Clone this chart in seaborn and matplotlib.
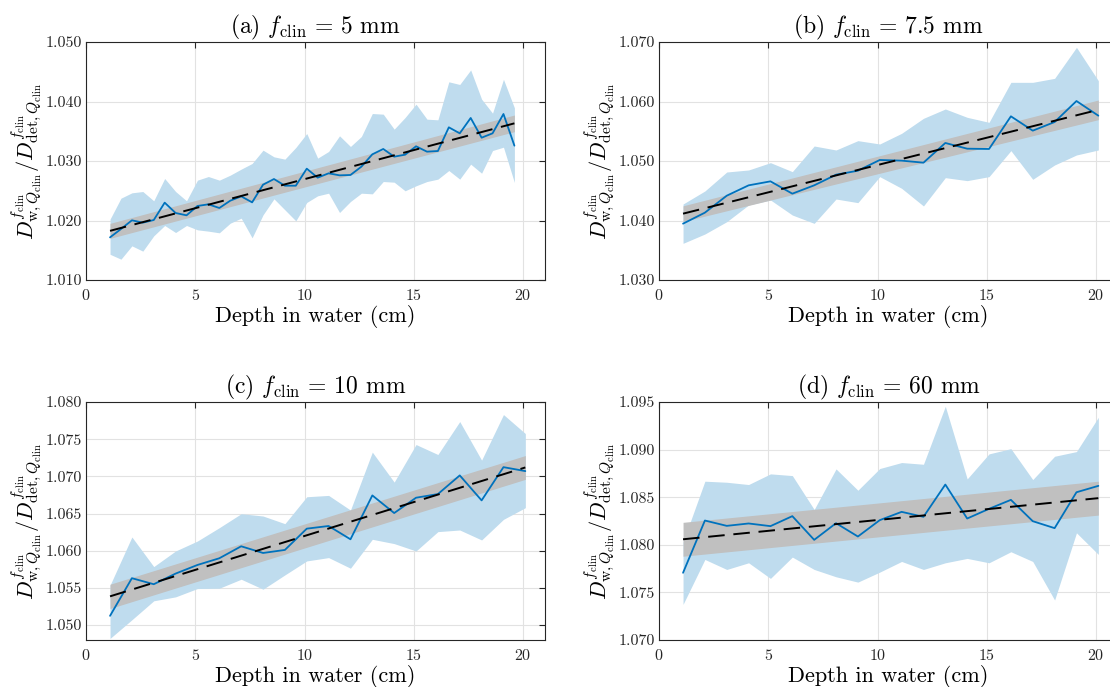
import numpy as np
import pandas as pd
import matplotlib
matplotlib.use("Agg")
import matplotlib.pyplot as plt
import seaborn as sns

# ---------------- data ----------------
depth_a = [1.1, 1.6, 2.1, 2.6, 3.1, 3.6, 4.1, 4.6, 5.1, 5.6, 6.1, 6.6, 7.1, 7.6,
           8.1, 8.6, 9.1, 9.6, 10.1, 10.6, 11.1, 11.6, 12.1, 12.6, 13.1, 13.6,
           14.1, 14.6, 15.1, 15.6, 16.1, 16.6, 17.1, 17.6, 18.1, 18.6, 19.1, 19.6]
mean_a = [1.01717, 1.01857, 1.02003, 1.01964, 1.02008, 1.02300, 1.02126, 1.02087,
          1.02244, 1.02272, 1.02210, 1.02333, 1.02406, 1.02305, 1.02602, 1.02697,
          1.02585, 1.02585, 1.02871, 1.02720, 1.02793, 1.02759, 1.02765, 1.02905,
          1.03112, 1.03202, 1.03073, 1.03106, 1.03247, 1.03157, 1.03168, 1.03566,
          1.03465, 1.03723, 1.03392, 1.03465, 1.03790, 1.03258]
upper_a = [1.02022, 1.02375, 1.02465, 1.02487, 1.02331, 1.02706, 1.02487, 1.02331,
           1.02678, 1.02739, 1.02678, 1.02762, 1.02863, 1.02958, 1.03182, 1.03070,
           1.03031, 1.03227, 1.03462, 1.03048, 1.03160, 1.03423, 1.03244, 1.03412,
           1.03798, 1.03787, 1.03535, 1.03731, 1.03955, 1.03703, 1.03692, 1.04331,
           1.04286, 1.04530, 1.04039, 1.03804, 1.04373, 1.03894]
lower_a = [1.01432, 1.01350, 1.01574, 1.01485, 1.01742, 1.01916, 1.01798, 1.01916,
           1.01843, 1.01821, 1.01793, 1.01955, 1.02039, 1.01709, 1.02095, 1.02364,
           1.02179, 1.01994, 1.02303, 1.02415, 1.02459, 1.02134, 1.02319, 1.02459,
           1.02448, 1.02655, 1.02644, 1.02499, 1.02583, 1.02655, 1.02695, 1.02840,
           1.02695, 1.02947, 1.02795, 1.03176, 1.03232, 1.02639]
fit_a = [1.01826, 1.03633]
fit_hw_a = [0.00126, 0.00140]

depth_bcd = [1.1, 2.1, 3.1, 4.1, 5.1, 6.1, 7.1, 8.1, 9.1, 10.1,
             11.1, 12.1, 13.1, 14.1, 15.1, 16.1, 17.1, 18.1, 19.1, 20.1]

mean_b = [1.03947, 1.04132, 1.04417, 1.04591, 1.04658, 1.04451, 1.04591, 1.04770,
          1.04837, 1.05017, 1.05006, 1.04972, 1.05303, 1.05207, 1.05202, 1.05751,
          1.05510, 1.05655, 1.06008, 1.05762]
upper_b = [1.04277, 1.04496, 1.04815, 1.04849, 1.04972, 1.04821, 1.05252, 1.05185,
           1.05342, 1.05286, 1.05465, 1.05717, 1.05874, 1.05734, 1.05650, 1.06322,
           1.06322, 1.06389, 1.06910, 1.06350]
lower_b = [1.03616, 1.03773, 1.03980, 1.04261, 1.04345, 1.04092, 1.03952, 1.04361,
           1.04300, 1.04737, 1.04541, 1.04244, 1.04720, 1.04670, 1.04737, 1.05174,
           1.04692, 1.04933, 1.05101, 1.05185]
fit_b = [1.04115, 1.05860]
fit_hw_b = [0.00132, 0.00165]

mean_c = [1.05125, 1.05631, 1.05550, 1.05693, 1.05809, 1.05899, 1.06060, 1.05970,
          1.06011, 1.06297, 1.06333, 1.06154, 1.06744, 1.06507, 1.06713, 1.06762,
          1.07013, 1.06677, 1.07124, 1.07071]
upper_c = [1.05537, 1.06185, 1.05787, 1.05997, 1.06131, 1.06310, 1.06498, 1.06467,
           1.06364, 1.06726, 1.06744, 1.06547, 1.07326, 1.06923, 1.07428, 1.07294,
           1.07737, 1.07218, 1.07831, 1.07576]
lower_c = [1.04821, 1.05072, 1.05327, 1.05380, 1.05492, 1.05496, 1.05617, 1.05483,
           1.05675, 1.05863, 1.05908, 1.05765, 1.06154, 1.06096, 1.05997, 1.06257,
           1.06279, 1.06145, 1.06422, 1.06579]
fit_c = [1.05387, 1.07120]
fit_hw_c = [0.00163, 0.00160]

mean_d = [1.07706, 1.08255, 1.08199, 1.08224, 1.08196, 1.08301, 1.08052, 1.08227,
          1.08087, 1.08259, 1.08346, 1.08294, 1.08633, 1.08276, 1.08378, 1.08472,
          1.08248, 1.08175, 1.08552, 1.08619]
upper_d = [1.08030, 1.08668, 1.08657, 1.08633, 1.08745, 1.08727, 1.08371, 1.08797,
           1.08573, 1.08801, 1.08864, 1.08846, 1.09455, 1.08692, 1.08955, 1.09010,
           1.08685, 1.08930, 1.08979, 1.09339]
lower_d = [1.07374, 1.07846, 1.07741, 1.07811, 1.07647, 1.07871, 1.07741, 1.07664,
           1.07608, 1.07713, 1.07825, 1.07741, 1.07811, 1.07857, 1.07811, 1.07927,
           1.07825, 1.07420, 1.08126, 1.07899]
fit_d = [1.08058, 1.08490]
fit_hw_d = [0.00178, 0.00178]

titles = [r"(a) $f_{\mathrm{clin}}\,=\,5$ mm", r"(b) $f_{\mathrm{clin}}\,=\,7.5$ mm",
          r"(c) $f_{\mathrm{clin}}\,=\,10$ mm", r"(d) $f_{\mathrm{clin}}\,=\,60$ mm"]
ylims = [(1.010, 1.050), (1.030, 1.070), (1.048, 1.080), (1.070, 1.095)]
yticks = [[1.010, 1.020, 1.030, 1.040, 1.050],
          [1.030, 1.040, 1.050, 1.060, 1.070],
          [1.050, 1.055, 1.060, 1.065, 1.070, 1.075, 1.080],
          [1.070, 1.075, 1.080, 1.085, 1.090, 1.095]]
xticks = [0, 5, 10, 15, 20]
xlabel = "Depth in water (cm)"
ylabel = (r"$D^{f_{\mathrm{clin}}}_{\mathrm{w},Q_{\mathrm{clin}}}"
          r"/D^{f_{\mathrm{clin}}}_{\mathrm{det},Q_{\mathrm{clin}}}$")

panels = [
    (depth_a, mean_a, upper_a, lower_a, fit_a, fit_hw_a),
    (depth_bcd, mean_b, upper_b, lower_b, fit_b, fit_hw_b),
    (depth_bcd, mean_c, upper_c, lower_c, fit_c, fit_hw_c),
    (depth_bcd, mean_d, upper_d, lower_d, fit_d, fit_hw_d),
]

# ---------------- style ----------------
sns.set_theme(style="white")
plt.rcParams["font.family"] = ["cmr10", "DejaVu Serif"]
plt.rcParams["mathtext.fontset"] = "cm"
plt.rcParams["axes.formatter.use_mathtext"] = True
plt.rcParams["axes.unicode_minus"] = False

BLUE = "#0072BD"
FILL = "#BFDCEE"
GRAY = "#C0C0C0"
EDGE = "#262626"

W, H = 1110, 687
fig = plt.figure(figsize=(W / 100, H / 100), dpi=100)
fig.patch.set_facecolor("white")

boxes = [(86, 42, 545, 280), (659, 42, 1118, 280),
         (86, 402, 545, 640), (659, 402, 1118, 640)]

for i, (box, pdata) in enumerate(zip(boxes, panels)):
    l, t, r, b = box
    ax = fig.add_axes([l / W, 1 - b / H, (r - l) / W, (b - t) / H])
    x, m, up, lo, fit, hw = pdata
    df = pd.DataFrame({"depth": x, "mean": m, "upper": up, "lower": lo})

    ax.fill_between(df["depth"], df["lower"], df["upper"], color=FILL,
                    linewidth=0, zorder=1)
    fx = [x[0], x[-1]]
    ax.fill_between(fx, [fit[0] - hw[0], fit[1] - hw[1]],
                    [fit[0] + hw[0], fit[1] + hw[1]], color=GRAY,
                    linewidth=0, zorder=2)
    sns.lineplot(data=df, x="depth", y="mean", ax=ax, color=BLUE,
                 linewidth=1.3, zorder=3)
    fdf = pd.DataFrame({"depth": fx, "fit": fit})
    sns.lineplot(data=fdf, x="depth", y="fit", ax=ax, color="black",
                 linewidth=1.4, dashes=False, zorder=4)
    ax.lines[-1].set_dashes([8.5, 4.5])

    ax.set_xlim(0, 21)
    ax.set_ylim(*ylims[i])
    ax.set_xticks(xticks)
    ax.set_yticks(yticks[i])
    ax.set_yticklabels([f"{v:.3f}" for v in yticks[i]])
    ax.grid(True, color="#E2E2E2", linewidth=0.8, zorder=0)
    ax.set_axisbelow(True)
    for s in ax.spines.values():
        s.set_color(EDGE)
        s.set_linewidth(0.8)
    ax.tick_params(direction="in", length=4, width=0.8, colors=EDGE,
                   labelsize=11.5, top=True, right=True)
    ax.tick_params(axis="x", pad=6)
    ax.tick_params(axis="y", pad=3)
    for lab in ax.get_xticklabels() + ax.get_yticklabels():
        lab.set_color("#262626")
    ax.set_title(titles[i], fontsize=17, pad=6, color="black")
    ax.set_xlabel(xlabel, fontsize=16, labelpad=1, color="black")
    ax.set_ylabel(ylabel, fontsize=16, labelpad=1, color="black")

fig.savefig("out.png", dpi=100)
